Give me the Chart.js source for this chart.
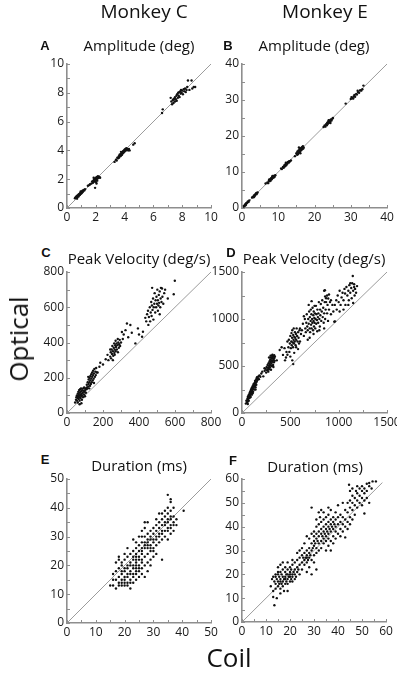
<!DOCTYPE html>
<html>
<head>
<meta charset="utf-8">
<script src="https://cdn.jsdelivr.net/npm/chart.js@4.4.1/dist/chart.umd.min.js"></script>
<style>
  html, body { margin:0; padding:0; width:397px; height:679px; overflow:hidden; background:#fff; }
  canvas { position:absolute; }
  .t { position:absolute; transform:translate(-50%,-50%); white-space:nowrap; line-height:1; color:#111; font-family:"Open Sans", sans-serif; }
  .big { font-size:19px; }
  .ttl { font-size:15px; }
  .let { font-family:"Liberation Sans", Arial, sans-serif; font-weight:bold; font-size:13px; }
  .ax { font-size:26px; }
</style>
</head>
<body>
<script>
// ---------- DATA (coil, optical) ----------
const ampMonkeyC = [
 [0.55,0.68],[0.6,0.75],[0.62,0.7],[0.65,0.8],[0.68,0.72],[0.7,0.85],[0.72,0.78],[0.75,0.82],[0.78,0.9],[0.8,0.8],
 [0.82,0.95],[0.85,0.88],[0.88,1.0],[0.9,0.92],[0.92,1.05],[0.95,0.98],[0.98,1.1],[1.0,1.02],[1.02,1.15],[1.05,1.08],
 [1.08,1.2],[1.1,1.12],[1.15,1.25],[1.2,1.22],[1.25,1.3],[0.7,0.65],[0.95,1.15],
 [1.45,1.55],[1.55,1.6],[1.6,1.65],[1.7,1.7],[1.75,1.85],[1.8,1.75],[1.82,1.9],[1.85,1.8],[1.88,1.95],[1.9,2.0],
 [1.92,1.85],[1.95,1.9],[1.97,2.05],[2.0,1.95],[2.0,2.1],[2.02,1.8],[2.05,2.0],[2.08,2.15],[2.1,1.9],[2.12,2.05],
 [2.15,2.2],[2.2,2.1],[2.25,2.15],[2.3,2.1],[1.95,1.4],[2.05,1.7],[1.85,2.1],
 [3.3,3.2],[3.4,3.35],[3.45,3.3],[3.5,3.5],[3.55,3.45],[3.6,3.6],[3.62,3.5],[3.65,3.7],[3.7,3.6],[3.72,3.75],
 [3.75,3.65],[3.8,3.8],[3.82,3.7],[3.85,3.9],[3.88,3.8],[3.9,3.95],[3.92,3.85],[3.95,4.0],[3.98,3.9],[4.0,4.05],
 [4.02,3.95],[4.05,4.1],[4.1,4.0],[4.12,4.15],[4.15,4.05],[4.2,4.1],[4.25,4.0],[4.3,4.1],[4.35,4.0],[3.75,3.9],
 [4.7,4.5],[4.6,4.4],[6.6,6.6],[6.65,6.85],
 [7.25,7.4],[7.3,7.2],[7.35,7.5],[7.4,7.3],[7.45,7.6],[7.5,7.4],[7.5,7.7],[7.55,7.55],[7.6,7.8],[7.62,7.45],
 [7.65,7.9],[7.7,7.65],[7.72,8.0],[7.75,7.8],[7.8,8.05],[7.82,7.7],[7.85,8.1],[7.9,7.95],[7.92,8.2],[7.95,8.0],
 [8.0,8.15],[8.05,7.9],[8.1,8.25],[8.15,8.1],[8.2,8.3],[8.25,8.05],[8.3,8.2],[8.35,8.4],[8.4,8.85],[8.65,8.85],
 [8.7,8.3],[8.8,8.4],[8.9,8.4],[8.5,8.2],[7.4,7.55],[7.2,7.65]
];
const ampMonkeyE = [
 [0.3,0.4],[0.5,0.6],[0.6,0.5],[0.8,0.9],[1.0,1.1],[1.1,0.9],[1.3,1.4],[1.5,1.5],[1.6,1.8],[1.8,1.7],[2.0,2.1],[1.2,1.3],[0.9,0.7],
 [2.8,2.9],[3.0,3.1],[3.2,3.0],[3.3,3.5],[3.5,3.4],[3.6,3.7],[3.8,3.9],[4.0,3.8],[4.1,4.2],[4.3,4.3],[3.9,4.1],[3.4,3.2],
 [6.5,6.8],[7.0,7.1],[7.2,6.9],[7.4,7.6],[7.6,7.4],[7.8,8.0],[7.9,7.6],[8.0,8.3],[8.2,8.0],[8.3,8.6],[8.5,8.3],[8.6,8.8],
 [8.8,8.5],[8.9,9.0],[9.0,8.7],[9.2,9.1],[8.4,8.9],[7.5,7.9],
 [10.8,11.0],[11.0,10.8],[11.3,11.4],[11.5,11.2],[11.7,11.9],[11.9,11.6],[12.0,12.2],[12.2,11.9],[12.3,12.5],[12.5,12.3],
 [12.7,12.8],[12.9,12.6],[13.0,13.0],[13.2,12.9],[13.5,13.2],[12.1,12.6],[11.6,11.5],
 [14.6,14.4],[15.0,15.2],[15.2,14.8],[15.3,15.7],[15.5,15.3],[15.6,16.0],[15.8,15.5],[15.9,16.3],[16.0,15.8],[16.2,16.6],
 [16.3,16.0],[16.5,16.9],[16.6,16.3],[16.8,17.2],[17.0,16.8],[15.4,14.9],[16.1,15.2],[15.7,16.8],[16.9,16.5],
 [22.5,22.5],[22.8,22.9],[23.0,22.6],[23.2,23.3],[23.4,23.0],[23.5,23.7],[23.7,23.4],[23.8,24.0],[24.0,23.7],[24.1,24.3],
 [24.3,24.0],[24.5,24.6],[24.7,24.3],[24.9,24.8],[25.1,25.0],[23.9,24.4],[24.4,23.6],
 [28.6,29.0],[30.0,30.3],[30.2,30.8],[30.5,30.5],[30.8,31.0],[31.0,31.4],[31.2,30.9],[31.5,31.7],[31.7,31.5],[32.0,32.2],
 [32.3,32.0],[32.6,32.7],[32.9,32.6],[33.2,33.0],[33.5,34.0],[31.9,32.6],[30.7,30.4]
];
const velMonkeyC = [
 [45,60],[50,75],[52,90],[55,70],[55,100],[58,85],[60,110],[60,60],[62,95],[63,120],[65,80],[65,105],[67,130],[68,90],
 [70,115],[70,70],[72,100],[73,135],[75,85],[75,120],[77,105],[78,140],[80,95],[80,125],[82,110],[83,75],[85,130],[85,100],
 [88,115],[90,140],[90,90],[92,125],[95,105],[95,145],[98,120],[100,130],[100,95],[103,140],[105,115],[108,135],[80,55],[70,50],[110,145],
 [110,160],[112,140],[115,175],[118,150],[120,190],[120,165],[123,140],[125,200],[125,175],[128,155],[130,210],[130,185],
 [133,165],[135,220],[135,195],[138,175],[140,230],[140,205],[143,185],[145,240],[145,215],[148,195],[150,225],[152,250],
 [155,205],[158,235],[160,215],[162,255],[165,230],[118,205],[150,170],
 [170,230],[185,285],[200,275],[215,305],[225,330],[230,300],[180,262],
 [240,320],[243,345],[245,310],[248,360],[250,335],[252,380],[255,350],[257,325],[260,370],[262,395],[263,340],[265,360],
 [268,385],[270,350],[270,410],[272,375],[275,395],[277,360],[280,385],[282,420],[283,345],[285,400],[288,370],[290,390],
 [293,415],[295,380],[300,400],[255,300],[240,360],[265,330],
 [305,460],[315,445],[310,420],[325,470],[333,508],[352,499],[340,430],[380,395],[394,480],[417,433],[422,461],[400,445],[360,455],
 [435,540],[440,520],[445,560],[450,580],[452,500],[455,545],[460,600],[462,520],[465,570],[468,630],[470,550],[472,610],
 [473,710],[475,585],[478,650],[480,530],[482,600],[485,620],[487,680],[490,570],[492,640],[495,600],[497,660],[500,620],
 [502,700],[505,580],[505,640],[508,610],[510,670],[512,625],[515,690],[518,600],[520,650],[522,710],[525,630],[528,706],
 [530,660],[535,620],[540,680],[545,700],[560,650],[593,674],[599,750],[515,560]
];
const velMonkeyE = [
 [40,100],[45,130],[50,110],[55,150],[58,120],[60,170],[62,140],[65,160],[68,190],[70,130],[72,175],[75,200],[78,160],
 [80,215],[82,185],[85,230],[88,200],[90,170],[92,245],[95,215],[98,260],[100,230],[102,195],[105,270],[108,245],[110,285],
 [112,255],[115,225],[118,300],[120,270],[122,310],[125,285],[128,250],[130,320],[133,295],[135,340],[138,310],[140,275],
 [143,350],[145,325],[148,300],[150,365],[153,335],[155,380],[160,350],[165,370],[170,390],[175,360],[180,400],[190,385],
 [60,95],[110,210],[140,250],[200,420],[210,440],[220,390],[233,476],[267,459],
 [235,450],[245,470],[250,430],[255,490],[260,455],[265,510],[270,480],[272,440],[275,530],[280,500],[283,465],[285,550],
 [288,520],[290,485],[292,570],[295,540],[297,505],[300,590],[300,460],[303,560],[305,525],[307,610],[310,580],[312,545],
 [315,620],[318,595],[320,560],[322,510],[325,600],[328,575],[330,540],[333,615],[335,585],[338,555],[340,600],[310,500],
 [295,610],[280,590],[325,490],
 [360,560],[390,670],[424,618],[410,700],[440,690],[455,590],[460,650],[470,760],[445,560],
 [470,620],[480,700],[485,780],[490,650],[495,740],[500,820],[505,690],[510,760],[512,850],[515,720],[518,800],[520,880],
 [525,750],[528,700],[530,830],[533,780],[535,900],[538,740],[540,810],[545,760],[548,860],[550,800],[555,720],[558,840],
 [560,780],[565,900],[570,820],[575,760],[580,860],[585,800],[590,740],[595,880],[500,600],[520,560],[540,640],[560,700],
 [580,680],[600,760],[610,840],[530,520],
 [620,880],[630,950],[640,820],[650,1000],[655,900],[660,860],[665,960],[670,1050],[675,920],[680,880],[685,1000],[690,950],
 [695,1080],[700,900],[702,1020],[705,860],[710,980],[712,1100],[715,940],[718,1050],[720,900],[725,1000],[728,960],[730,1120],
 [735,880],[738,1040],[740,980],[742,1080],[745,920],[748,1010],[750,960],[755,1060],[758,900],[760,1000],[765,1140],[768,950],
 [770,1050],[775,990],[778,870],[780,1100],[785,1020],[788,960],[790,1060],[795,1180],[800,1000],[805,920],[808,1100],[810,1040],
 [815,1160],[820,980],[825,1080],[830,1200],[835,1020],[840,1120],[845,960],[850,1060],[855,1180],[860,1000],[865,1100],[870,1220],
 [880,1060],[885,1150],[890,980],[900,1100],[910,1180],[920,1050],[935,1150],[945,1080],[955,970],[962,975],[700,800],[740,840],
 [800,880],[850,900],[680,780],[860,1240],[750,1140],[600,900],[640,1030],[690,1150],[720,1190],
 [850,1300],[858,1306],[880,1250],[892,1218],[900,1260],[920,1200],[870,1180],
 [960,1150],[975,1200],[980,1100],[990,1250],[1000,1180],[1010,1300],[1020,1150],[1030,1230],[1040,1280],[1050,1200],
 [1060,1320],[1066,1271],[1070,1150],[1080,1340],[1090,1250],[1100,1300],[1105,1200],[1110,1360],[1120,1280],[1130,1330],
 [1135,1220],[1140,1380],[1146,1458],[1150,1300],[1160,1340],[1165,1250],[1170,1320],[1180,1280],[1190,1350],[1100,1150],
 [1050,1100],[1150,1170],[1010,1080],[1120,1380],[1160,1370]
];
const durMonkeyC = [
 [15,13],[16,13],[16,17],[17,12],[17,15],[17,18],[18,13],[18,14],[18,16],[18,19],[18,22],[19,13],[19,14],[19,15],[19,17],
 [19,18],[19,20],[19,21],[20,13],[20,14],[20,15],[20,16],[20,18],[20,19],[20,22],[21,13],[21,14],[21,16],[21,17],[21,19],
 [21,20],[21,23],[22,12],[22,14],[22,15],[22,17],[22,18],[22,20],[22,21],[22,24],[23,14],[23,16],[23,17],[23,19],[23,20],
 [23,22],[23,23],[23,25],[24,15],[24,17],[24,18],[24,19],[24,20],[24,21],[24,22],[24,23],[24,24],[24,26],[25,16],[25,18],
 [25,19],[25,20],[25,22],[25,23],[25,25],[25,27],[26,17],[26,19],[26,21],[26,22],[26,24],[26,25],[26,26],[26,28],[18,23],
 [17,21],[20,24],[16,15],[23,29],[21,26],
 [27,16],[27,20],[27,23],[27,26],[27,27],[27,28],[27,30],[27,35],[28,18],[28,21],[28,24],[28,26],[28,27],[28,28],[28,29],
 [28,31],[28,35],[29,22],[29,25],[29,26],[29,27],[29,29],[29,30],[29,32],[30,23],[30,26],[30,28],[30,29],[30,31],[30,33],
 [31,24],[31,27],[31,29],[31,30],[31,32],[31,34],[26,30],[25,30],[24,28],[29,20],[30,25],[27,33],[26,32],
 [32,28],[32,30],[32,31],[32,33],[32,35],[33,22],[33,29],[33,31],[33,32],[33,34],[33,36],[33,38],[34,30],[34,32],[34,34],
 [34,35],[34,37],[34,39],[35,29],[35,32],[35,33],[35,35],[35,36],[35,38],[35,40],[35,44.5],[36,31],[36,33],[36,34],[36,36],
 [36,37],[36,39],[36,43],[37,32],[37,34],[37,35],[37,37],[37,40],[38,34],[38,36],[40.5,39],[36,42],[31,36],[32,38]
];
const durMonkeyE = [
 [12,15],[12.5,18],[13,10.5],[13,13],[13.5,7],[13.5,17],[14,16],[14,19],[14,14],[14.5,10],[14.5,18],[15,15],[15,17],[15,20],
 [15,23],[15.5,16],[15.5,19],[16,14],[16,17],[16,18],[16,21],[16,24],[16.5,16],[16.5,20],[17,15],[17,17],[17,19],[17,22],
 [17,25],[17.5,18],[17.5,13],[18,16],[18,18],[18,19],[18,21],[18,23],[18.5,17],[18.5,20],[19,13],[19,16],[19,18],[19,20],
 [19,22],[19,25],[19.5,19],[20,17],[20,19],[20,20],[20,21],[20,23],[20.5,18],[20.5,22],[21,17],[21,19],[21,20],[21,24],
 [21,26],[21.5,21],[22,18],[22,20],[22,22],[22,25],[22.5,19],[23,21],[23,23],[23,26],[23.5,22],[24,20],[24,24],[24,27],
 [25,22],[25,25],[25,28],[14,20],[15,21],[13,19],[16,12],
 [25.5,27],[26,24],[26,26],[26,29],[26.5,27],[27,25],[27,27],[27,28],[27,30],[27.5,26],[28,23],[28,27],[28,29],[28,31],
 [28.5,28],[29,26],[29,30],[29,33],[29,48],[29.5,31],[30,28],[30,32],[30,34],[30,36],[30,38],[30.5,33],[31,29],[31,31],
 [31,35],[31,37],[31,40],[31.5,34],[32,30],[32,33],[32,36],[32,38],[32,41],[29,37],[28,35],[27,36],[26,33],[25,31],[24,30],
 [23,29],[29,20],[27,21],[30,25],[31,22],
 [32.5,44],[33,31],[33,34],[33,37],[33,39],[33,42],[33.5,36],[34,33],[34,35],[34,38],[34,40],[34,43],[34,46],[34.5,37],
 [35,30],[35,34],[35,36],[35,39],[35,41],[35,44],[35.5,38],[36,32],[36,35],[36,37],[36,40],[36,42],[36,45],[36.5,39],
 [37,30],[37,34],[37,38],[37,41],[37,43],[37,47],[37.5,40],[38,33],[38,36],[38,39],[38,42],[38,44],[38.5,41],[39,35],
 [39,38],[39,40],[39,43],[39,46],[40,37],[40,41],[40,44],[40,49],[41,36],[41,39],[41,42],[41,45],[42,38],[42,41],[42,44],
 [42,50],[43,35.5],[43,40],[43,43],[43,47],[44,39],[44,42],[44,46],[45,41],[45,44],[45,48],[46,43],[46,47],[31,43],[32,46],
 [33,47],[36,48],
 [45,51],[46,50],[46,53],[47,45],[47,49],[47,52],[47.5,55],[48,48],[48,51],[48,54],[48,57],[49,50],[49,53],[49,56],[50,49],
 [50,52],[50,55],[50,57],[51,45.5],[51,51],[51,54],[51,56],[52,52],[52,55],[52,58],[53,50],[53,57],[53,58.3],[54,56],
 [54.4,59],[55.8,59],[44.6,57.6],[45,55],[46,56],[44,50]
];

// axis settings per panel (A..F)
const panelLetters = ["A","B","C","D","E","F"];
const panelTitles  = ["Amplitude (deg)","Amplitude (deg)","Peak Velocity (deg/s)","Peak Velocity (deg/s)","Duration (ms)","Duration (ms)"];
const axisMax      = [10, 40, 800, 1500, 50, 60];
const tickStep     = [2, 10, 200, 500, 10, 10];
const minorStep    = [1, 5, 100, 250, 5, 5];
const unityEnd     = [10, 40, 800, 1500, 50, 58.5];
const monkeyNames  = ["Monkey C","Monkey E"];
const rowLabel = "Optical", colLabel = "Coil";
const panelData = [ampMonkeyC, ampMonkeyE, velMonkeyC, velMonkeyE, durMonkeyC, durMonkeyE];

// ---------- LAYOUT (plot areas in px) ----------
const plotBoxes = [
  {L:67, R:211, T:64,  B:208},
  {L:242,R:387, T:64,  B:208},
  {L:67, R:211, T:272, B:413},
  {L:242,R:387, T:272, B:413},
  {L:67, R:211, T:479, B:623},
  {L:242,R:386, T:479, B:622}
];
const letterPos = [[45,45],[228,45],[46,252],[231,252],[45,459],[233,460]];
const titlePos  = [[139,45],[314,45],[139,258],[314,258],[139,465],[315,466]];

const YW = 40, XH = 24, PT = 12, PR = 16;
const AXIS_COLOR = '#8e8e8e';

function addText(txt, x, y, cls, extra) {
  const d = document.createElement('div');
  d.className = 't ' + cls;
  d.textContent = txt;
  d.style.left = x + 'px';
  d.style.top = y + 'px';
  if (extra) d.style.transform = extra;
  document.body.appendChild(d);
}

const minorTicks = {
  id: 'minorTicks',
  afterDraw(chart, args, opts) {
    const {ctx, chartArea, scales} = chart;
    ctx.save();
    ctx.strokeStyle = AXIS_COLOR;
    ctx.lineWidth = 1;
    for (let v = 0; v <= opts.max + 1e-9; v += opts.minor) {
      const y = Math.round(scales.y.getPixelForValue(v)) + 0.5;
      ctx.beginPath(); ctx.moveTo(chartArea.left, y); ctx.lineTo(chartArea.left + 3, y); ctx.stroke();
      const x = Math.round(scales.x.getPixelForValue(v)) + 0.5;
      ctx.beginPath(); ctx.moveTo(x, chartArea.bottom); ctx.lineTo(x, chartArea.bottom - 3); ctx.stroke();
    }
    ctx.restore();
  }
};

panelData.forEach((pts, i) => {
  const b = plotBoxes[i];
  const cv = document.createElement('canvas');
  const w = b.R - b.L + YW + PR, h = b.B - b.T + PT + XH;
  cv.width = w; cv.height = h;
  cv.style.left = (b.L - YW) + 'px';
  cv.style.top = (b.T - PT) + 'px';
  cv.style.width = w + 'px'; cv.style.height = h + 'px';
  document.body.appendChild(cv);
  const tickFont = {family:'"Open Sans", sans-serif', size:12};
  const plain = v => String(v);
  new Chart(cv, {
    type: 'scatter',
    data: {
      datasets: [
        {
          type: 'scatter',
          data: pts.map(p => ({x:p[0], y:p[1]})),
          backgroundColor: '#111',
          borderWidth: 0,
          pointRadius: 1.2,
          pointStyle: 'circle'
        },
        {
          type: 'line',
          data: [{x:0,y:0},{x:unityEnd[i],y:unityEnd[i]}],
          borderColor: '#9c9c9c',
          borderWidth: 1,
          pointRadius: 0,
          fill: false
        }
      ]
    },
    options: {
      responsive: false,
      animation: false,
      devicePixelRatio: 1,
      layout: {padding: {top:PT, right:PR, left:0, bottom:0}},
      plugins: {legend:{display:false}, tooltip:{enabled:false}, minorTicks:{max:axisMax[i], minor:minorStep[i]}},
      scales: {
        x: {
          type:'linear', min:0, max:axisMax[i],
          grid:{display:false, drawTicks:false},
          border:{display:true, color:AXIS_COLOR, width:1.6},
          ticks:{stepSize:tickStep[i], autoSkip:false, maxRotation:0, padding:2, color:'#1a1a1a', font:tickFont, callback:plain},
          afterFit(s){ s.height = XH; }
        },
        y: {
          type:'linear', min:0, max:axisMax[i],
          grid:{display:false, drawTicks:false},
          border:{display:true, color:AXIS_COLOR, width:1.6},
          ticks:{stepSize:tickStep[i], autoSkip:false, padding:3, color:'#1a1a1a', font:tickFont, callback:plain},
          afterFit(s){ s.width = YW; }
        }
      }
    },
    plugins: [minorTicks]
  });
  addText(panelLetters[i], letterPos[i][0], letterPos[i][1], 'let');
  addText(panelTitles[i], titlePos[i][0], titlePos[i][1], 'ttl');
});

addText(monkeyNames[0], 144, 11, 'big');
addText(monkeyNames[1], 325, 11, 'big');
addText(rowLabel, 18, 339, 'ax', 'translate(-50%,-50%) rotate(-90deg)');
addText(colLabel, 229, 657, 'ax');
</script>
</body>
</html>
